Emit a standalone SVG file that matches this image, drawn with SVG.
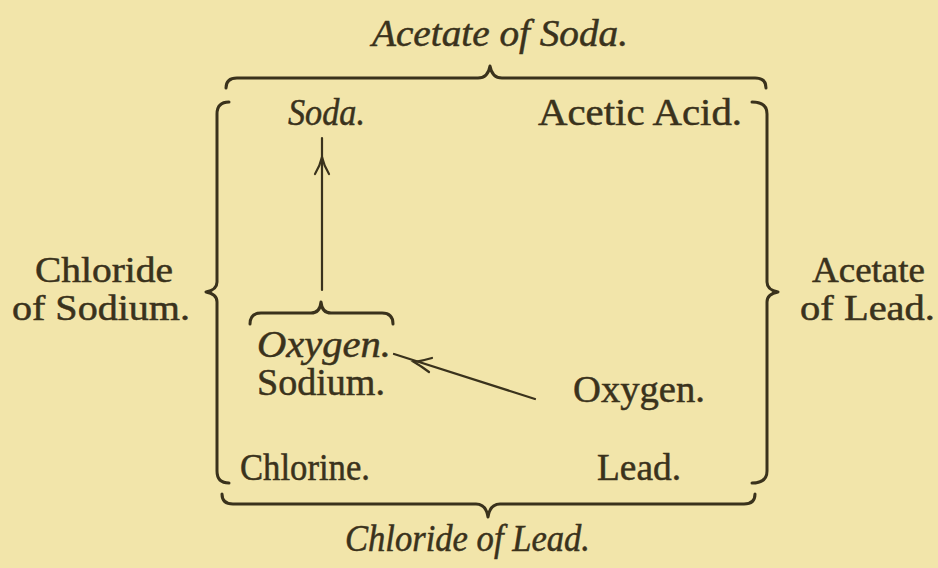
<svg xmlns="http://www.w3.org/2000/svg" width="938" height="568" viewBox="0 0 938 568">
<style>
  text { font-family: 'Liberation Serif', 'Times New Roman', serif; font-size: 38px; fill: #3a321c; stroke: #3a321c; stroke-width: 0.5; }
  .i { font-style: italic; }
  .s { font-size: 35px; }
  .ln { fill: none; stroke: #3a321c; stroke-width: 3; stroke-linecap: round; stroke-linejoin: round; }
  .th { fill: none; stroke: #3a321c; stroke-width: 2.2; stroke-linecap: round; }
</style>
<rect width="938" height="568" fill="#f2e5aa"/>

<g id="connectors">
  <path id="brace-top" class="ln" d="M226,88 Q226,78 237,78 L478,78 Q488,78 490,66 Q492,78 502,78 L755,78 Q766,78 766,88"/>
  <path id="brace-bottom" class="ln" d="M222,494 Q222,504 233,504 L476,504 Q486,504 488,517 Q490,504 500,504 L744,504 Q755,504 755,494"/>
  <path id="brace-left" class="ln" d="M229,102 Q217,102 217,114 L217,282 Q217,290 206,292 Q217,294 217,302 L217,471 Q217,483 229,483"/>
  <path id="brace-right" class="ln" d="M752,102 Q767,102 767,114 L767,282 Q767,290 778,292 Q767,294 767,302 L767,471 Q767,483 752,483"/>
  <path id="brace-small" class="ln" d="M250,324 Q250,313 261,313 L311,313 Q320,313 321,302 Q322,313 331,313 L382,313 Q393,313 393,324"/>
  <line id="arrow-up" class="th" x1="322" y1="138" x2="322" y2="290"/>
  <path class="th" d="M315,174 Q320,166 322,157 Q324,166 329,174"/>
  <line id="arrow-oxygen" class="th" x1="535" y1="399" x2="394" y2="354"/>
  <path class="th" d="M432,358 Q422,361 414,362 Q421,366 429,372"/>
</g>

<g id="acetate-of-soda"><text class="i" font-family="Liberation Serif" x="372" y="46" textLength="256" lengthAdjust="spacingAndGlyphs">Acetate of Soda.</text></g>
<g id="soda"><text class="i" font-family="Liberation Serif" x="288" y="125" textLength="77" lengthAdjust="spacingAndGlyphs">Soda.</text></g>
<g id="acetic-acid"><text font-family="Liberation Serif" x="538" y="125" textLength="204" lengthAdjust="spacingAndGlyphs">Acetic Acid.</text></g>
<g id="chloride-of-sodium">
  <text class="s" font-family="Liberation Serif" x="35" y="282" textLength="138" lengthAdjust="spacingAndGlyphs">Chloride</text>
  <text class="s" font-family="Liberation Serif" x="12" y="320" textLength="178" lengthAdjust="spacingAndGlyphs">of Sodium.</text>
</g>
<g id="acetate-of-lead">
  <text class="s" font-family="Liberation Serif" x="812" y="282" textLength="113" lengthAdjust="spacingAndGlyphs">Acetate</text>
  <text class="s" font-family="Liberation Serif" x="800" y="320" textLength="135" lengthAdjust="spacingAndGlyphs">of Lead.</text>
</g>
<g id="oxygen-left"><text class="i" font-family="Liberation Serif" x="257" y="357" textLength="134" lengthAdjust="spacingAndGlyphs">Oxygen.</text></g>
<g id="sodium"><text font-family="Liberation Serif" x="257" y="395" textLength="128" lengthAdjust="spacingAndGlyphs">Sodium.</text></g>
<g id="oxygen-right"><text font-family="Liberation Serif" x="573" y="402" textLength="132" lengthAdjust="spacingAndGlyphs">Oxygen.</text></g>
<g id="chlorine"><text font-family="Liberation Serif" x="240" y="480" textLength="130" lengthAdjust="spacingAndGlyphs">Chlorine.</text></g>
<g id="lead"><text font-family="Liberation Serif" x="597" y="480" textLength="84" lengthAdjust="spacingAndGlyphs">Lead.</text></g>
<g id="chloride-of-lead"><text class="i" font-family="Liberation Serif" x="345" y="551" textLength="245" lengthAdjust="spacingAndGlyphs">Chloride of Lead.</text></g>
</svg>
